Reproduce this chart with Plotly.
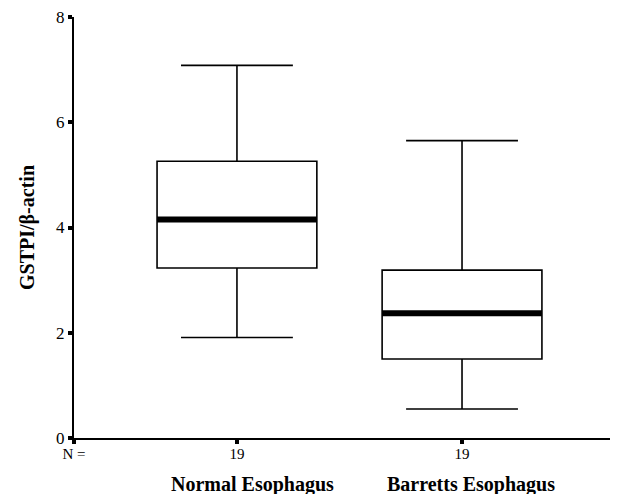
import plotly.graph_objects as go

categories = ["Normal Esophagus", "Barretts Esophagus"]
positions = [0, 1]
n_labels = ["19", "19"]
lower_whisker = [1.91, 0.55]
q1 = [3.23, 1.50]
median = [4.15, 2.37]
q3 = [5.26, 3.19]
upper_whisker = [7.08, 5.65]

box_width = 0.71
serif = "Liberation Serif, Times New Roman, serif"

fig = go.Figure()
for i in range(len(categories)):
    fig.add_trace(go.Box(
        x=[positions[i]],
        q1=[q1[i]], median=[median[i]], q3=[q3[i]],
        lowerfence=[lower_whisker[i]], upperfence=[upper_whisker[i]],
        width=box_width, whiskerwidth=0.7,
        fillcolor="white", line=dict(color="black", width=1.6),
        boxpoints=False, hoverinfo="skip", showlegend=False,
    ))
    fig.add_trace(go.Scatter(
        x=[positions[i] - box_width / 2, positions[i] + box_width / 2],
        y=[median[i], median[i]],
        mode="lines", line=dict(color="black", width=6),
        hoverinfo="skip", showlegend=False,
    ))
    fig.add_annotation(
        x=positions[i], y=0, xref="x", yref="paper",
        text="<b>" + categories[i] + "</b>", showarrow=False,
        xshift=[16, 9][i], yshift=-46, yanchor="middle",
        font=dict(family=serif, size=20, color="black"),
    )

x_left = -0.724
fig.update_layout(
    width=610, height=486,
    margin=dict(l=66, r=0, t=4, b=56),
    plot_bgcolor="white", paper_bgcolor="white",
    font=dict(family=serif, color="black"),
    xaxis=dict(
        range=[x_left, 1.693],
        tickvals=[x_left] + positions,
        ticktext=["N ="] + n_labels,
        showline=True, linecolor="black", linewidth=2,
        ticks="outside", ticklen=4, tickwidth=4, tickcolor="black",
        showgrid=False, zeroline=False, ticklabeloverflow="allow",
        ticklabelstandoff=-3,
        tickfont=dict(family=serif, size=15, color="black"),
    ),
    yaxis=dict(
        range=[0, 8], tickvals=[0, 2, 4, 6, 8],
        showline=True, linecolor="black", linewidth=2,
        ticks="outside", ticklen=4, tickwidth=4, tickcolor="black",
        showgrid=False, zeroline=False, ticklabeloverflow="allow",
        tickfont=dict(family=serif, size=17, color="black"),
        title=dict(text="<b>GSTPI/β-actin</b>", standoff=16,
                   font=dict(family=serif, size=20, color="black")),
    ),
)

fig.write_html("out.html")
